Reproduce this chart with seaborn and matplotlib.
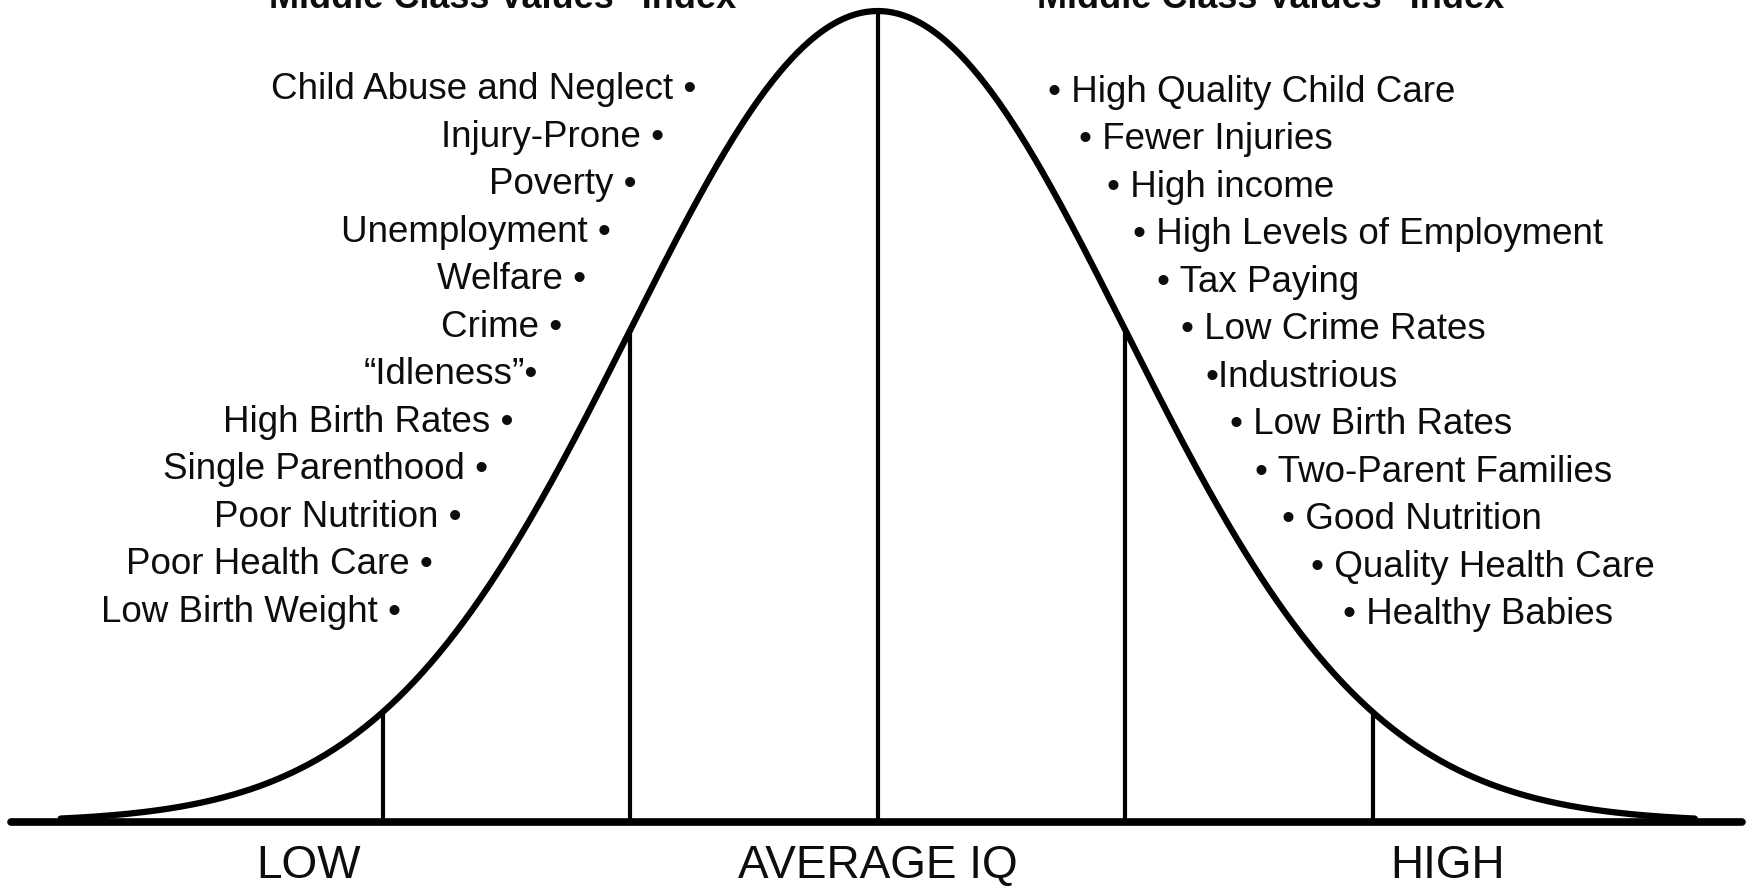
import numpy as np
import pandas as pd
import matplotlib
matplotlib.use("Agg")
import matplotlib.pyplot as plt
import seaborn as sns

# IQ scale of the bell curve
iq_mean = 100
iq_sd = 15
cut_points = [70, 85, 100, 115, 130]

low_traits = [
    "Child Abuse and Neglect \u2022",
    "Injury-Prone \u2022",
    "Poverty \u2022",
    "Unemployment \u2022",
    "Welfare \u2022",
    "Crime \u2022",
    "\u201cIdleness\u201d\u2022",
    "High Birth Rates \u2022",
    "Single Parenthood \u2022",
    "Poor Nutrition \u2022",
    "Poor Health Care \u2022",
    "Low Birth Weight \u2022",
]
high_traits = [
    "\u2022 High Quality Child Care",
    "\u2022 Fewer Injuries",
    "\u2022 High income",
    "\u2022 High Levels of Employment",
    "\u2022 Tax Paying",
    "\u2022 Low Crime Rates",
    "\u2022Industrious",
    "\u2022 Low Birth Rates",
    "\u2022 Two-Parent Families",
    "\u2022 Good Nutrition",
    "\u2022 Quality Health Care",
    "\u2022 Healthy Babies",
]
axis_labels = ["LOW", "AVERAGE IQ", "HIGH"]
index_titles = ["\u201cMiddle Class Values\u201d Index", "\u201cMiddle Class Values\u201d Index"]

sns.set_style("white")
plt.rcParams['font.family'] = ['Liberation Sans', 'DejaVu Sans']

# bell curve, peak scaled to 1
iq = np.linspace(iq_mean - 3.3 * iq_sd, iq_mean + 3.3 * iq_sd, 800)
height = np.exp(-0.5 * ((iq - iq_mean) / iq_sd) ** 2)
curve = pd.DataFrame({"iq": iq, "height": height})

fig = plt.figure(figsize=(17.53, 8.93), dpi=100)
ax = fig.add_axes([0, 0, 1, 1])

sns.lineplot(data=curve, x="iq", y="height", color="black", lw=4.5, ax=ax)

cut_heights = np.exp(-0.5 * ((np.array(cut_points) - iq_mean) / iq_sd) ** 2)
ax.vlines(cut_points, 0, cut_heights, color="black", lw=3)
ax.axhline(0, xmin=0.006, xmax=0.994, color="black", lw=5.5)

ax.set_xlim(iq_mean - 3.545 * iq_sd, iq_mean + 3.535 * iq_sd)
ax.set_ylim(-0.0875, 1.0136)
ax.axis("off")

# trait labels hug the curve on both sides
levels = 0.903 - 0.0586 * np.arange(len(low_traits))
for lvl, txt in zip(levels, low_traits):
    xc = iq_mean - iq_sd * np.sqrt(-2 * np.log(lvl))
    ax.text(xc - 4.2, lvl, txt, ha="right", va="center", fontsize=26.5, color="#0d0d0d")
for lvl, txt in zip(levels - 0.003, high_traits):
    xc = iq_mean + iq_sd * np.sqrt(-2 * np.log(lvl))
    ax.text(xc + 3.4, lvl, txt, ha="left", va="center", fontsize=26.5, color="#0d0d0d")

for pos, txt in zip([iq_mean - 2.3 * iq_sd, iq_mean, iq_mean + 2.3 * iq_sd], axis_labels):
    ax.text(pos, -0.054, txt, ha="center", va="center", fontsize=33, color="#0d0d0d")

# headings sit partly above the top edge, as in the source scan
for pos, txt in zip([iq_mean - 1.55 * iq_sd, iq_mean + 1.55 * iq_sd], index_titles):
    ax.text(pos, 1.004, txt, ha="center", va="baseline", fontsize=26, fontweight="bold", color="#0d0d0d")

fig.savefig("out.png", dpi=100, facecolor="white")
